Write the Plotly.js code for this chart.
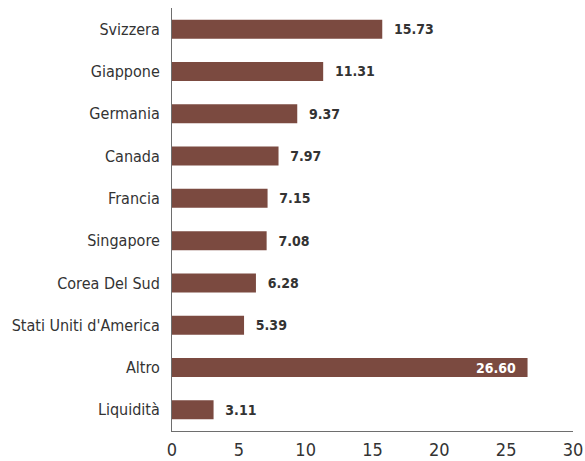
<!DOCTYPE html>
<html>
<head>
<meta charset="utf-8">
<script src="https://cdn.plot.ly/plotly-3.0.1.min.js"></script>
<style>html,body{margin:0;padding:0;background:#fff;}#chart{width:585px;height:461px;}</style>
</head>
<body>
<div id="chart"></div>
<script>
const categories = ["Svizzera", "Giappone", "Germania", "Canada", "Francia", "Singapore", "Corea Del Sud", "Stati Uniti d'America", "Altro", "Liquidità"];
const values = [15.73, 11.31, 9.37, 7.97, 7.15, 7.08, 6.28, 5.39, 26.60, 3.11];
const xTicks = [0, 5, 10, 15, 20, 25, 30];

const FONT = "'DejaVu Sans Condensed', 'Liberation Sans Narrow', sans-serif";
const insideIdx = categories.indexOf("Altro");
const labels = values.map((v, i) => i === insideIdx ? v.toFixed(2) + "\u00a0\u00a0" : "\u00a0\u00a0" + v.toFixed(2));
const positions = values.map((v, i) => i === insideIdx ? "inside" : "outside");
const textColors = values.map((v, i) => i === insideIdx ? "#ffffff" : "#333333");

const trace = {
  type: "bar",
  orientation: "h",
  y: categories,
  x: values,
  marker: {color: "#7b4a40"},
  text: labels,
  textposition: positions,
  insidetextanchor: "end",
  constraintext: "none",
  textfont: {family: FONT, size: 14, color: textColors, weight: "bold"},
  cliponaxis: false,
  hoverinfo: "none"
};

const layout = {
  width: 585, height: 461,
  margin: {l: 172, r: 12, t: 8, b: 30},
  paper_bgcolor: "#ffffff", plot_bgcolor: "#ffffff",
  bargap: 0.55,
  showlegend: false,
  font: {family: FONT, color: "#333333"},
  xaxis: {
    range: [0, 30],
    tickvals: xTicks,
    ticktext: xTicks.map(String),
    showgrid: false, zeroline: false,
    showline: true, linecolor: "#6e6e6e", linewidth: 1,
    ticks: "outside", ticklen: 2, tickcolor: "rgba(0,0,0,0)",
    tickfont: {family: FONT, size: 18, color: "#333333"},
    fixedrange: true
  },
  yaxis: {
    autorange: "reversed",
    showgrid: false, zeroline: false,
    showline: true, linecolor: "#6e6e6e", linewidth: 1,
    ticks: "outside", ticklen: 8, tickcolor: "rgba(0,0,0,0)",
    tickfont: {family: FONT, size: 16, color: "#333333"},
    fixedrange: true
  }
};

Plotly.newPlot("chart", [trace], layout, {displayModeBar: false, staticPlot: true});
</script>
</body>
</html>
